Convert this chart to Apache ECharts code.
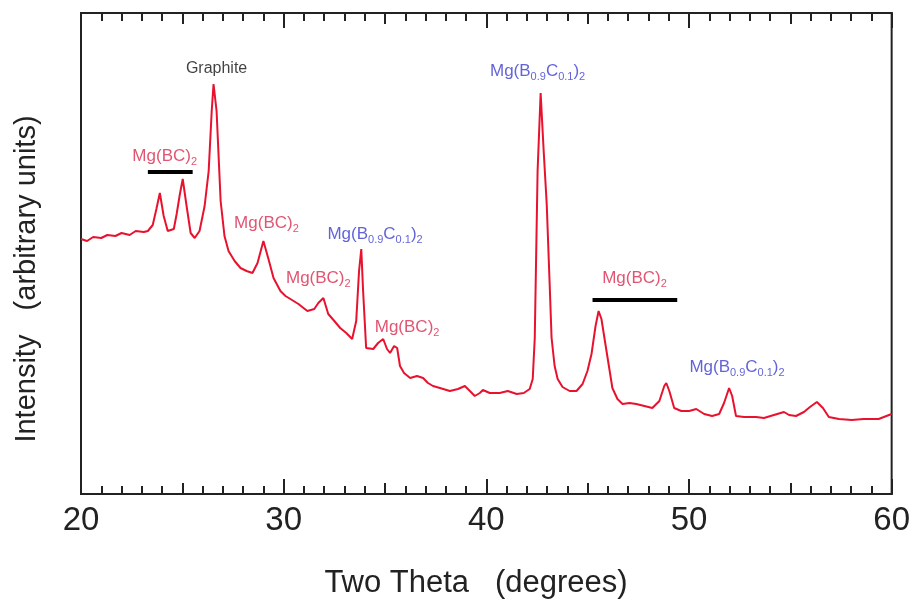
<!DOCTYPE html>
<html>
<head>
<meta charset="utf-8">
<script src="https://cdn.jsdelivr.net/npm/echarts@6/dist/echarts.min.js"></script>
<style>
html,body{margin:0;padding:0;background:#fff;}
#chart{width:913px;height:601px;}
</style>
</head>
<body>
<div id="chart"></div>
<script>
// ---- Data ----
const twoTheta = [
  20.0, 20.3, 20.6, 21.0, 21.3, 21.7, 22.0, 22.4, 22.7, 23.1,
  23.30, 23.54, 23.72, 23.89, 24.08, 24.28,
  24.58, 24.72, 24.88, 25.02, 25.21, 25.41, 25.61, 25.85, 26.10, 26.30, 26.45,
  26.54, 26.69, 26.89, 27.08, 27.28, 27.58, 27.87, 28.17, 28.46, 28.71,
  29.00, 29.25, 29.50, 29.84, 30.09, 30.33, 30.73, 31.17, 31.51, 31.71,
  31.96, 32.20, 32.50, 32.79, 33.09, 33.38, 33.58, 33.72, 33.83, 33.92,
  34.07, 34.42, 34.66, 34.91, 35.10, 35.25, 35.45, 35.60, 35.74, 35.94,
  36.24, 36.58, 36.88, 37.12, 37.37, 37.71, 38.20, 38.60, 38.94, 39.19,
  39.43, 39.68, 39.83, 40.17, 40.66, 41.06, 41.50, 41.85, 42.14, 42.29,
  42.39, 42.53, 42.68, 42.83, 42.98, 43.12, 43.22, 43.37, 43.52, 43.76,
  44.11, 44.45, 44.75, 44.99, 45.19, 45.39, 45.54, 45.68, 45.93, 46.22,
  46.47, 46.72, 47.06, 47.40, 47.80, 48.19, 48.54, 48.78, 48.88, 49.03,
  49.27, 49.62, 50.01, 50.36, 50.75, 51.14, 51.49, 51.73, 51.98, 52.13,
  52.32, 52.72, 53.31, 53.70, 54.19, 54.69, 54.94, 55.28, 55.67, 55.97,
  56.31, 56.61, 56.90, 57.40, 58.03, 58.62, 59.36, 60.00
];
const intensity = [
  255, 253, 257, 256, 259, 258, 261, 259, 263, 262,
  263, 269, 285, 301, 278, 263,
  265, 280, 300, 315, 288, 261, 256, 263, 288, 323, 383,
  410, 383, 293, 258, 243, 233, 226, 223, 221, 231,
  253, 235, 216, 203, 198, 195, 190, 183, 185, 191,
  196, 180, 173, 166, 161, 155, 173, 223, 245, 203,
  146, 145, 151, 155, 145, 141, 148, 146, 128, 121,
  116, 118, 116, 111, 108, 106, 103, 105, 108, 103,
  98, 101, 104, 101, 101, 103, 100, 101, 105, 115,
  156, 323, 401, 343, 290, 213, 156, 128, 115, 107,
  103, 103, 110, 123, 140, 168, 183, 175, 143, 106,
  95, 90, 91, 90, 88, 86, 93, 108, 111, 103,
  86, 83, 83, 85, 80, 78, 80, 91, 106, 98,
  78, 77, 77, 76, 79, 82, 79, 78, 82, 87,
  92, 86, 77, 75, 74, 75, 75, 80
];

// annotations: text, x (two theta), y (intensity), colour kind
const annoText  = ['Graphite', 'Mg(BC){s|2}', 'Mg(BC){s|2}', 'Mg(B{s|0.9}C{s|0.1}){s|2}', 'Mg(BC){s|2}', 'Mg(BC){s|2}', 'Mg(B{s|0.9}C{s|0.1}){s|2}', 'Mg(BC){s|2}', 'Mg(B{s|0.9}C{s|0.1}){s|2}'];
const annoX     = [26.69, 24.13, 29.15, 34.51, 31.71, 36.09, 42.53, 47.31, 52.37];
const annoY     = [425, 338, 271, 260, 216, 167, 423, 216, 127];
const annoKind  = ['graphite', 'bc', 'bc', 'b09', 'bc', 'bc', 'b09', 'bc', 'b09'];

// horizontal range bars for the Mg(BC)2 groups
const barStart = [23.30, 45.24];
const barEnd   = [25.51, 49.42];
const barLevel = [322, 194];

const xTickLabels = ['20', '30', '40', '50', '60'];
const xTitle = 'Two Theta   (degrees)';
const yTitle = 'Intensity   (arbitrary units)';

// ---- Chart ----
const FONT = "'Liberation Sans', Arial, sans-serif";
const kindColor = {graphite: '#111111', bc: '#d9294f', b09: '#3b3bd0'};

const chart = echarts.init(document.getElementById('chart'), null, {renderer: 'canvas'});

const lineData = twoTheta.map((t, i) => [t, intensity[i]]);

const annoData = annoText.map((txt, i) => ({
  value: [annoX[i], annoY[i]],
  label: {
    show: true,
    position: 'inside',
    formatter: txt,
    color: kindColor[annoKind[i]],
    fontFamily: FONT,
    fontSize: annoKind[i] === 'graphite' ? 16 : 17,
    lineHeight: 22,
    verticalAlign: 'middle',
    rich: {
      s: {
        fontSize: 11,
        lineHeight: 11,
        verticalAlign: 'bottom',
        color: kindColor[annoKind[i]],
        fontFamily: FONT
      }
    }
  }
}));

const barSeries = barStart.map((s, i) => ({
  type: 'line',
  xAxisIndex: 0,
  yAxisIndex: 0,
  data: [[s, barLevel[i]], [barEnd[i], barLevel[i]]],
  symbol: 'none',
  silent: true,
  lineStyle: {color: '#000', width: 4},
  z: 3
}));

function makeX(position, interval, tickLen, showMinor, showLabel) {
  return {
    type: 'value',
    position: position,
    min: 20,
    max: 60,
    interval: interval,
    axisLine: {show: true, onZero: false, lineStyle: {color: '#222', width: 2}},
    axisTick: {show: true, inside: true, length: tickLen, lineStyle: {color: '#222', width: 2}},
    minorTick: {show: showMinor, splitNumber: 10, length: 8, lineStyle: {color: '#222', width: 2}},
    splitLine: {show: false},
    minorSplitLine: {show: false},
    axisLabel: {
      show: showLabel,
      margin: 10,
      color: '#222',
      fontFamily: FONT,
      fontSize: 33,
      formatter: function (v) { return xTickLabels[(v - 20) / 10]; }
    }
  };
}

const option = {
  backgroundColor: '#ffffff',
  animation: false,
  grid: {
    left: 81, right: 20, top: 13, bottom: 107,
    show: true, borderColor: '#222', borderWidth: 2, backgroundColor: 'transparent'
  },
  xAxis: [
    makeX('bottom', 10, 15, true, true),
    makeX('bottom', 5, 11, false, false),
    makeX('top', 10, 15, true, false),
    makeX('top', 5, 11, false, false)
  ],
  yAxis: {
    type: 'value',
    min: 0,
    max: 481,
    axisLine: {show: true, lineStyle: {color: '#222', width: 2}},
    axisTick: {show: false},
    axisLabel: {show: false},
    splitLine: {show: false}
  },
  graphic: [
    {
      type: 'text',
      x: 476, y: 583,
      style: {text: xTitle, fill: '#222', font: "31px " + FONT, textAlign: 'center', textVerticalAlign: 'middle'}
    },
    {
      type: 'text',
      x: 27, y: 279,
      rotation: Math.PI / 2,
      style: {text: yTitle, fill: '#222', font: "29px " + FONT, textAlign: 'center', textVerticalAlign: 'middle'}
    }
  ],
  series: [
    {
      type: 'line',
      xAxisIndex: 0,
      yAxisIndex: 0,
      data: lineData,
      symbol: 'none',
      lineStyle: {color: '#e8122f', width: 2},
      z: 2
    },
    ...barSeries,
    {
      type: 'scatter',
      xAxisIndex: 0,
      yAxisIndex: 0,
      data: annoData,
      symbolSize: 0,
      silent: true,
      z: 4
    }
  ]
};

chart.setOption(option);
</script>
</body>
</html>
